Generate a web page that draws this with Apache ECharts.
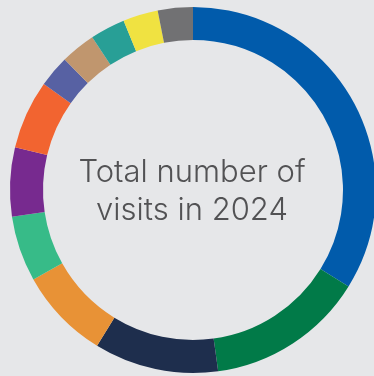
<!DOCTYPE html>
<html>
<head>
<meta charset="utf-8">
<script src="https://cdn.jsdelivr.net/npm/echarts@6/dist/echarts.min.js"></script>
<style>
  html, body { margin: 0; padding: 0; background: #e6e7e9; }
  #chart { width: 374px; height: 376px; }
</style>
</head>
<body>
<div id="chart"></div>
<script>
// slice shares (clockwise from 12 o'clock)
const categories = ['A', 'B', 'C', 'D', 'E', 'F', 'G', 'H', 'I', 'J', 'K', 'L'];
const values = [33.9, 14.0, 11.0, 8.1, 5.8, 6.1, 6.1, 2.8, 3.1, 3.1, 3.1, 3.1];
const colors = ['#015bab', '#017a48', '#1e2e4d', '#e89236', '#37bb88', '#772a8f',
  '#f26430', '#5761a3', '#c0966e', '#289f96', '#f0e241', '#717173'];
const centerLines = ['Total number of', 'visits in 2024'];

const chart = echarts.init(document.getElementById('chart'));

chart.setOption({
  backgroundColor: '#e6e7e9',
  animation: false,
  color: colors,
  graphic: [
    {
      type: 'text',
      x: 192,
      y: 192,
      style: {
        text: centerLines.join('\n'),
        fill: '#525254',
        font: '300 31px Inter',
        lineHeight: 38,
        align: 'center',
        verticalAlign: 'middle'
      }
    }
  ],
  series: [
    {
      type: 'pie',
      center: [193, 190],
      radius: [150, 183],
      startAngle: 90,
      clockwise: true,
      silent: true,
      label: { show: false },
      labelLine: { show: false },
      itemStyle: { borderWidth: 0 },
      data: categories.map((name, i) => ({ name, value: values[i] }))
    }
  ]
});
</script>
</body>
</html>
